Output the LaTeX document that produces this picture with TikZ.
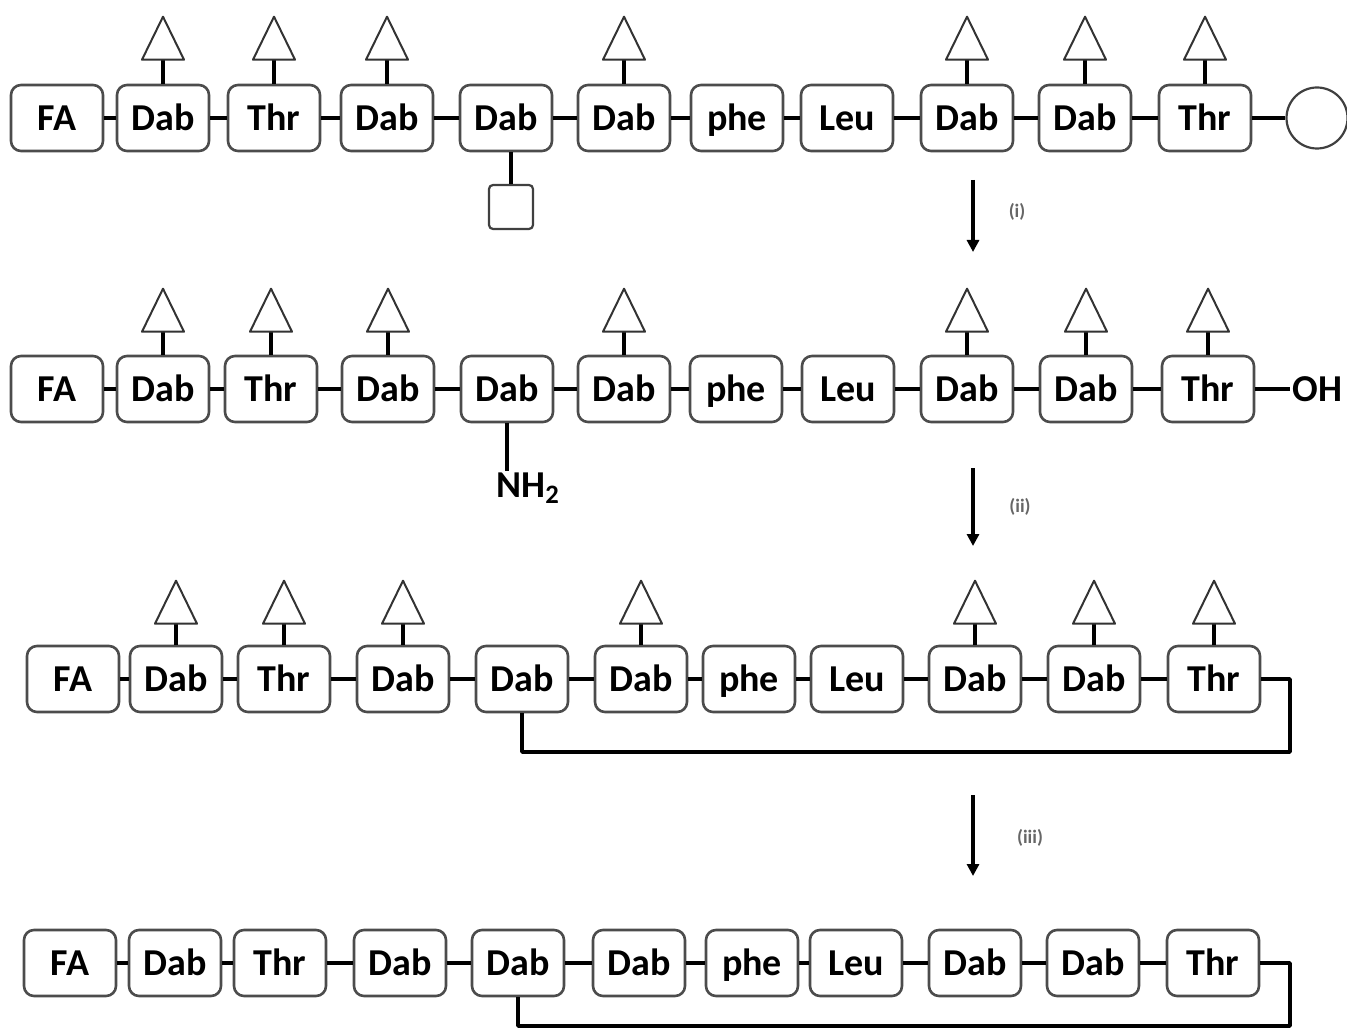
\documentclass[tikz,border=0pt]{standalone}
\usepackage{fontspec}
\setmainfont{Carlito}
\usetikzlibrary{arrows.meta,calc}
\begin{document}
\begin{tikzpicture}[x=0.5pt,y=-0.5pt,
  res/.style={draw=black!70, line width=1.3pt, rounded corners=5pt, minimum width=46pt, minimum height=33pt, inner sep=0pt, text height=16pt, text depth=3.8pt, font=\fontsize{19}{19}\selectfont\bfseries, fill=white},
  txt/.style={inner sep=1pt, font=\fontsize{19}{19}\selectfont\bfseries},
  link/.style={line width=1.8pt, black},
  stemline/.style={line width=2.4pt, black},
  triline/.style={draw=black!80, line width=1pt, line join=round},
  rxn/.style={line width=2pt, black, -{Triangle[length=6pt,width=6pt]}},
  lbl/.style={font=\fontsize{9.5}{9.5}\selectfont\bfseries, text=black!60, inner sep=0pt},
  ring/.style={draw=black!75, line width=1.1pt}
]
\useasboundingbox (0,0) rectangle (1347,1031);

% ---------- Row 1 ----------
\foreach \lab/\x [count=\i] in {FA/57, Dab/163, Thr/274, Dab/387, Dab/506, Dab/624, phe/737, Leu/847, Dab/967, Dab/1085, Thr/1205}
  \node[res] (r1-\i) at (\x,118) {\lab};
\foreach \i [evaluate=\i as \j using int(\i+1)] in {1,...,10}
  \draw[link] (r1-\i.east) -- (r1-\j.west);
\foreach \i in {2,3,4,6,9,10,11} {
  \draw[stemline] (r1-\i.north) -- ++(0,-24) coordinate (t1-\i);
  \draw[triline] ($(t1-\i)+(-21,0)$) -- ($(t1-\i)+(21,0)$) -- ($(t1-\i)+(0,-43)$) -- cycle;
}
\node[ring, circle, minimum size=30.5pt, inner sep=0pt] (circ) at (1317,118) {};
\draw[link] (r1-11.east) -- (circ.west);
\node[ring, rectangle, rounded corners=2pt, minimum size=22pt, inner sep=0pt] (sq) at (511,207) {};
\draw[stemline] (sq.north) -- (sq.north |- r1-5.south);

% ---------- Arrow (i) ----------
\coordinate (a1s) at (973,180);
\coordinate (a1e) at (973,252);
\draw[rxn] (a1s) -- (a1e);
\node[lbl] (l1) at (1017,212) {(i)};

% ---------- Row 2 ----------
\foreach \lab/\x [count=\i] in {FA/57, Dab/163, Thr/271, Dab/388, Dab/507, Dab/624, phe/736, Leu/848, Dab/967, Dab/1086, Thr/1208}
  \node[res] (r2-\i) at (\x,389) {\lab};
\foreach \i [evaluate=\i as \j using int(\i+1)] in {1,...,10}
  \draw[link] (r2-\i.east) -- (r2-\j.west);
\foreach \i in {2,3,4,6,9,10,11} {
  \draw[stemline] (r2-\i.north) -- ++(0,-23) coordinate (t2-\i);
  \draw[triline] ($(t2-\i)+(-21,0)$) -- ($(t2-\i)+(21,0)$) -- ($(t2-\i)+(0,-43)$) -- cycle;
}
\node[txt, anchor=west] (oh) at (1290,389) {OH};
\draw[link] (r2-11.east) -- (oh.west);
\node[txt, anchor=west] (nh) at (494,488) {NH\textsubscript{2}};
\draw[stemline] (r2-5.south) -- (r2-5.south |- nh.north);

% ---------- Arrow (ii) ----------
\coordinate (a2s) at (973,468);
\coordinate (a2e) at (973,546);
\draw[rxn] (a2s) -- (a2e);
\node[lbl] (l2) at (1020,507) {(ii)};

% ---------- Row 3 ----------
\foreach \lab/\x [count=\i] in {FA/73, Dab/176, Thr/284, Dab/403, Dab/522, Dab/641, phe/749, Leu/857, Dab/975, Dab/1094, Thr/1214}
  \node[res] (r3-\i) at (\x,679) {\lab};
\foreach \i [evaluate=\i as \j using int(\i+1)] in {1,...,10}
  \draw[link] (r3-\i.east) -- (r3-\j.west);
\foreach \i in {2,3,4,6,9,10,11} {
  \draw[stemline] (r3-\i.north) -- ++(0,-21) coordinate (t3-\i);
  \draw[triline] ($(t3-\i)+(-21,0)$) -- ($(t3-\i)+(21,0)$) -- ($(t3-\i)+(0,-43)$) -- cycle;
}
\coordinate (lp3) at (1290,752);
\draw[link, line join=round] (r3-11.east) -| (lp3) -| (r3-5.south);

% ---------- Arrow (iii) ----------
\coordinate (a3s) at (973,795);
\coordinate (a3e) at (973,876);
\draw[rxn] (a3s) -- (a3e);
\node[lbl] (l3) at (1030,838) {(iii)};

% ---------- Row 4 ----------
\foreach \lab/\x [count=\i] in {FA/70, Dab/175, Thr/280, Dab/400, Dab/518, Dab/639, phe/752, Leu/856, Dab/975, Dab/1093, Thr/1213}
  \node[res] (r4-\i) at (\x,963) {\lab};
\foreach \i [evaluate=\i as \j using int(\i+1)] in {1,...,10}
  \draw[link] (r4-\i.east) -- (r4-\j.west);
\coordinate (lp4) at (1290,1026);
\draw[link, line join=round] (r4-11.east) -| (lp4) -| (r4-5.south);
\end{tikzpicture}
\end{document}
